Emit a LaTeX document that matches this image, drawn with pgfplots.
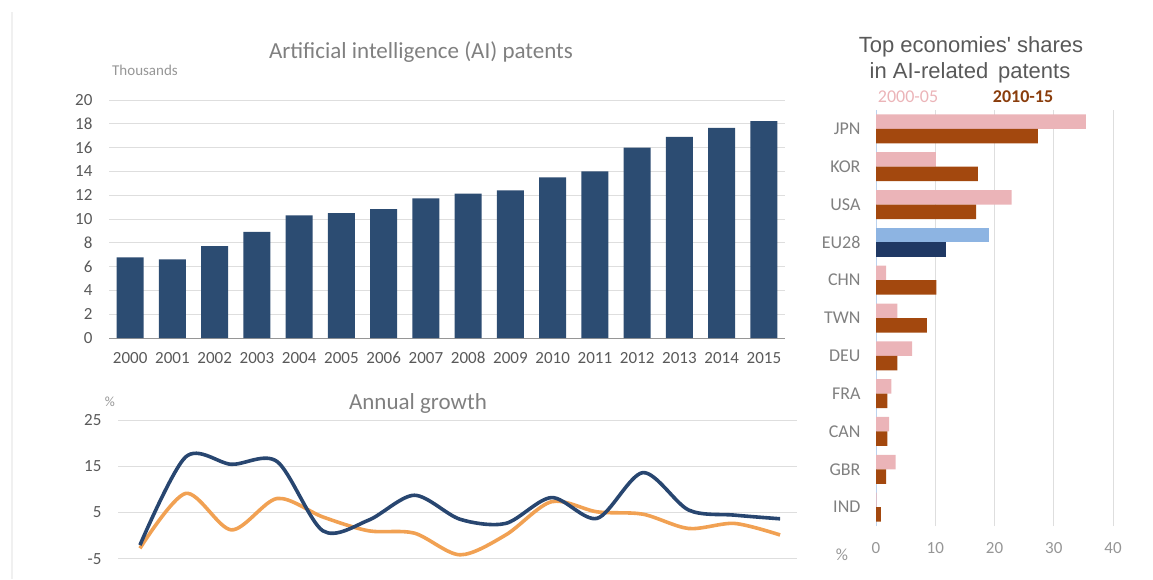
\documentclass[border=0pt]{standalone}
\usepackage{fontspec}
\setmainfont{Carlito}
\newfontfamily\arialf{Liberation Sans}
\usepackage{pgfplots}
\pgfplotsset{compat=1.18}
\definecolor{barblue}{RGB}{44,76,114}
\definecolor{lineblue}{RGB}{40,70,112}
\definecolor{lineorange}{RGB}{241,161,83}
\definecolor{pinkbar}{RGB}{235,180,184}
\definecolor{brownbar}{RGB}{163,72,14}
\definecolor{ltblue}{RGB}{141,180,226}
\definecolor{navy}{RGB}{31,56,100}
\definecolor{labgray}{RGB}{89,89,89}
\definecolor{titlegray}{RGB}{128,128,128}
\definecolor{ltgray}{RGB}{150,150,150}
\definecolor{gridgray}{RGB}{222,222,222}

\pgfplotstableread{
x y
0 6.77
1 6.60
2 7.72
3 8.92
4 10.30
5 10.50
6 10.82
7 11.74
8 12.13
9 12.40
10 13.50
11 14.00
12 16.00
13 16.90
14 17.65
15 18.23
}\patents

\pgfplotstableread{
x ai all
0 -2.1 -2.8
1 17.0 9.1
2 15.4 1.2
3 16.0 8.0
4 1.0 4.0
5 3.3 1.0
6 8.7 0.5
7 3.5 -4.2
8 2.6 0.1
9 8.2 7.3
10 3.7 5.1
11 13.6 4.6
12 5.5 1.5
13 4.4 2.6
14 3.6 0.1
}\growth

\begin{document}
\begin{tikzpicture}[x=1pt,y=1pt]
\path[use as bounding box] (0,0) rectangle (1153,579);
\draw[gray!12, line width=1.2pt] (12,0) -- (12,567);

% ---------- Bar chart: AI patents ----------
\begin{axis}[
  at={(109pt,241pt)}, anchor=south west, scale only axis,
  width=676pt, height=238pt,
  xmin=-0.5, xmax=15.5, ymin=0, ymax=20,
  xtick={0,...,15},
  xticklabels={2000,2001,2002,2003,2004,2005,2006,2007,2008,2009,2010,2011,2012,2013,2014,2015},
  ytick={0,2,...,20},
  yticklabels={0,2,4,6,8,10,12,14,16,18,20},
  ymajorgrids, grid style={gridgray, line width=0.9pt},
  axis x line*=bottom, axis y line*=left,
  y axis line style={draw=none},
  x axis line style={-, draw=ltgray, line width=0.9pt},
  major tick length=0pt,
  tick label style={font=\fontsize{17}{17}\selectfont, text=labgray},
  xticklabel style={text height=11pt, text depth=0pt, yshift=-11pt},
  yticklabel style={text height=11pt, text depth=0pt, xshift=-13pt},
  clip=false,
]
\addplot[ybar, bar width=27pt, fill=barblue, draw=none] table[x=x,y=y] {\patents};
\end{axis}
\node[text=titlegray, font=\fontsize{23}{23}\selectfont] at (421,527) {Artificial intelligence (AI) patents};
\node[text=ltgray, font=\fontsize{15}{15}\selectfont] at (145,509) {Thousands};

% ---------- Growth lines ----------
\begin{axis}[
  at={(118pt,20.5pt)}, anchor=south west, scale only axis,
  width=679pt, height=138.5pt,
  xmin=-0.48, xmax=14.37, ymin=-5, ymax=25,
  xtick=\empty,
  ytick={-5,5,15,25},
  yticklabels={-5,5,15,25},
  ymajorgrids, grid style={gridgray, line width=0.9pt},
  axis line style={draw=none},
  major tick length=0pt,
  tick label style={font=\fontsize{17}{17}\selectfont, text=labgray},
  yticklabel style={text height=11pt, text depth=0pt, xshift=-13pt},
  clip=false,
]
\addplot[lineorange, line width=3.6pt, smooth] table[x=x,y=all] {\growth};
\addplot[lineblue, line width=3.6pt, smooth] table[x=x,y=ai] {\growth};
\end{axis}
\node[text=titlegray, font=\fontsize{23}{23}\selectfont] at (418,176) {Annual growth};
\node[text=ltgray, font=\fontsize{14}{14}\selectfont] at (110,177) {\%};

% ---------- Right: shares ----------
\begin{axis}[
  at={(876pt,53pt)}, anchor=south west, scale only axis,
  width=237pt, height=416pt,
  xmin=0, xmax=40, ymin=-0.5, ymax=10.5,
  xtick={0,10,20,30,40},
  xticklabels={0,10,20,30,40},
  ytick={0,...,10},
  yticklabels={IND,GBR,CAN,FRA,DEU,TWN,CHN,EU28,USA,KOR,JPN},
  xmajorgrids, grid style={gridgray, line width=0.9pt},
  axis line style={draw=none},
  major tick length=0pt,
  xticklabel style={font=\fontsize{17}{17}\selectfont, text=ltgray, text height=11pt, text depth=0pt, yshift=-13pt},
  yticklabel style={font=\fontsize{18}{18}\selectfont, text=titlegray, text height=11.5pt, text depth=0pt, xshift=-12pt},
  clip=false,
]
\draw[ltblue!60, line width=0.9pt] (axis cs:0,-0.5) -- (axis cs:0,10.5);
\addplot[xbar, bar width=14.5pt, bar shift=7.25pt, fill=pinkbar, draw=none] coordinates {
(0.1,0) (3.3,1) (2.2,2) (2.6,3) (6.1,4) (3.6,5) (1.7,6) (22.9,8) (10.1,9) (35.4,10)};
\addplot[xbar, bar width=14.5pt, bar shift=-7.25pt, fill=brownbar, draw=none] coordinates {
(0.8,0) (1.7,1) (1.9,2) (1.9,3) (3.6,4) (8.6,5) (10.2,6) (16.9,8) (17.2,9) (27.3,10)};
\addplot[xbar, bar width=14.5pt, bar shift=7.25pt, fill=ltblue, draw=none] coordinates {(19.0,7)};
\addplot[xbar, bar width=14.5pt, bar shift=-7.25pt, fill=navy, draw=none] coordinates {(11.8,7)};
\end{axis}
\node[text=labgray, font=\arialf\fontsize{22}{22}\selectfont] at (971,532) {Top economies' shares};
\node[text=labgray, font=\arialf\fontsize{22}{22}\selectfont] at (970,506) {in AI-related\, patents};
\node[text=pinkbar, font=\fontsize{18}{18}\selectfont] at (908,482) {2000-05};
\node[text=brownbar!85!black, font=\bfseries\fontsize{18}{18}\selectfont] at (1023,482) {2010-15};
\node[text=ltgray, font=\fontsize{17}{17}\selectfont] at (842,24) {\%};
\end{tikzpicture}
\end{document}
